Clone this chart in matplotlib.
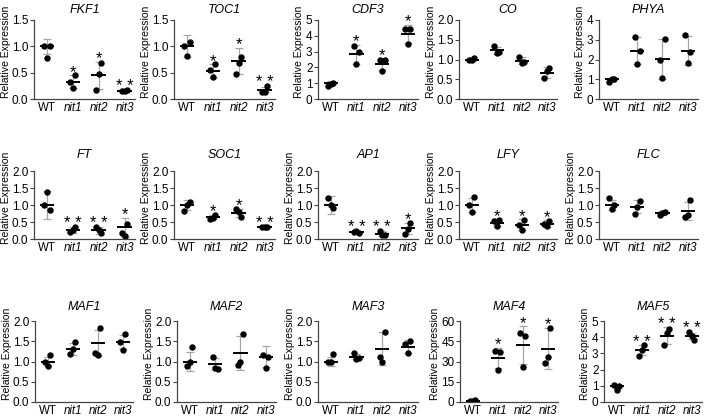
import matplotlib
matplotlib.use("Agg")
import matplotlib.pyplot as plt
import numpy as np

plt.rcParams['font.family'] = ['Liberation Sans', 'DejaVu Sans']

groups = ["WT", "nit1", "nit2", "nit3"]

# dots per genotype (listed left, right, middle), mean line, SD and stars
fkf1_pts = [[1.0, 1.0, 0.77], [0.33, 0.45, 0.2], [0.17, 0.69, 0.47], [0.16, 0.17, 0.15]]
fkf1_mean = [1.0, 0.33, 0.45, 0.15]
fkf1_sd = [0.14, 0.12, 0.26, 0.02]
fkf1_sig = ["", "*", "*", "**"]

toc1_pts = [[1.0, 1.08, 0.82], [0.55, 0.66, 0.41], [0.48, 0.8, 0.69], [0.13, 0.25, 0.14]]
toc1_mean = [1.0, 0.53, 0.72, 0.18]
toc1_sd = [0.21, 0.13, 0.25, 0.05]
toc1_sig = ["", "*", "*", "**"]

cdf3_pts = [[0.82, 1.03, 0.95], [3.35, 2.95, 2.2], [2.45, 2.45, 1.8], [4.45, 4.45, 3.5]]
cdf3_mean = [1.0, 2.82, 2.2, 4.12]
cdf3_sd = [0.13, 0.6, 0.35, 0.58]
cdf3_sig = ["", "*", "*", "*"]

co_pts = [[0.98, 1.05, 1.0], [1.33, 1.2, 1.17], [1.07, 0.93, 0.9], [0.52, 0.78, 0.72]]
co_mean = [1.0, 1.23, 0.97, 0.67]
co_sd = [0.04, 0.08, 0.09, 0.13]
co_sig = ["", "", "", ""]

phya_pts = [[0.87, 1.02, 1.0], [3.15, 2.42, 1.77], [1.97, 3.05, 1.07], [3.25, 2.4, 1.8]]
phya_mean = [1.0, 2.45, 2.03, 2.45]
phya_sd = [0.08, 0.7, 1.0, 0.75]
phya_sig = ["", "", "", ""]

ft_pts = [[1.0, 0.85, 1.38], [0.2, 0.35, 0.27], [0.36, 0.17, 0.27], [0.17, 0.45, 0.08]]
ft_mean = [1.0, 0.27, 0.26, 0.34]
ft_sd = [0.4, 0.08, 0.1, 0.28]
ft_sig = ["", "**", "**", "*"]

soc1_pts = [[0.82, 1.1, 1.0], [0.6, 0.7, 0.62], [0.88, 0.65, 0.78], [0.34, 0.36, 0.35]]
soc1_mean = [1.0, 0.64, 0.77, 0.35]
soc1_sd = [0.14, 0.06, 0.12, 0.02]
soc1_sig = ["", "*", "*", "**"]

ap1_pts = [[1.22, 0.9, 1.0], [0.2, 0.18, 0.25], [0.25, 0.12, 0.12], [0.15, 0.48, 0.3]]
ap1_mean = [1.0, 0.2, 0.16, 0.31]
ap1_sd = [0.27, 0.04, 0.08, 0.17]
ap1_sig = ["", "**", "**", "*"]

lfy_pts = [[1.0, 1.25, 0.8], [0.52, 0.55, 0.37], [0.4, 0.55, 0.27], [0.45, 0.52, 0.37]]
lfy_mean = [1.0, 0.48, 0.42, 0.45]
lfy_sd = [0.22, 0.1, 0.16, 0.1]
lfy_sig = ["", "*", "*", "*"]

flc_pts = [[1.22, 1.0, 0.88], [0.75, 1.13, 0.95], [0.7, 0.8, 0.77], [0.65, 1.15, 0.7]]
flc_mean = [1.0, 0.95, 0.76, 0.83]
flc_sd = [0.16, 0.19, 0.05, 0.27]
flc_sig = ["", "", "", ""]

maf1_pts = [[0.98, 1.15, 0.9], [1.18, 1.47, 1.3], [1.2, 1.82, 1.15], [1.48, 1.68, 1.28]]
maf1_mean = [1.0, 1.31, 1.45, 1.48]
maf1_sd = [0.1, 0.15, 0.32, 0.18]
maf1_sig = ["", "", "", ""]

maf2_pts = [[0.9, 1.37, 1.0], [1.1, 0.82, 0.85], [0.92, 1.67, 1.0], [1.15, 1.12, 0.85]]
maf2_mean = [1.0, 0.94, 1.2, 1.12]
maf2_sd = [0.24, 0.14, 0.42, 0.26]
maf2_sig = ["", "", "", ""]

maf3_pts = [[0.98, 1.18, 1.0], [1.2, 1.08, 1.07], [1.1, 1.72, 0.98], [1.42, 1.5, 1.2]]
maf3_mean = [1.0, 1.12, 1.32, 1.37]
maf3_sd = [0.12, 0.07, 0.4, 0.15]
maf3_sig = ["", "", "", ""]

maf4_pts = [[1.0, 1.2, 0.8], [38.0, 37.0, 24.0], [51.0, 49.0, 26.0], [29.0, 55.0, 33.0]]
maf4_mean = [1.0, 32.5, 42.0, 39.5]
maf4_sd = [0.3, 7.5, 14.0, 15.0]
maf4_sig = ["", "*", "*", "*"]

maf5_pts = [[1.05, 1.0, 0.75], [2.85, 3.5, 3.2], [3.5, 4.5, 4.25], [4.35, 3.8, 4.05]]
maf5_mean = [1.0, 3.2, 4.1, 4.07]
maf5_sd = [0.12, 0.3, 0.5, 0.2]
maf5_sig = ["", "**", "**", "**"]

# gene, data, y max, y step, tick format
panels = [
    [("FKF1", fkf1_pts, fkf1_mean, fkf1_sd, fkf1_sig, 1.5, 0.5, "%.1f"),
     ("TOC1", toc1_pts, toc1_mean, toc1_sd, toc1_sig, 1.5, 0.5, "%.1f"),
     ("CDF3", cdf3_pts, cdf3_mean, cdf3_sd, cdf3_sig, 5, 1, "%d"),
     ("CO", co_pts, co_mean, co_sd, co_sig, 2.0, 0.5, "%.1f"),
     ("PHYA", phya_pts, phya_mean, phya_sd, phya_sig, 4, 1, "%d")],
    [("FT", ft_pts, ft_mean, ft_sd, ft_sig, 2.0, 0.5, "%.1f"),
     ("SOC1", soc1_pts, soc1_mean, soc1_sd, soc1_sig, 2.0, 0.5, "%.1f"),
     ("AP1", ap1_pts, ap1_mean, ap1_sd, ap1_sig, 2.0, 0.5, "%.1f"),
     ("LFY", lfy_pts, lfy_mean, lfy_sd, lfy_sig, 2.0, 0.5, "%.1f"),
     ("FLC", flc_pts, flc_mean, flc_sd, flc_sig, 2.0, 0.5, "%.1f")],
    [("MAF1", maf1_pts, maf1_mean, maf1_sd, maf1_sig, 2.0, 0.5, "%.1f"),
     ("MAF2", maf2_pts, maf2_mean, maf2_sd, maf2_sig, 2.0, 0.5, "%.1f"),
     ("MAF3", maf3_pts, maf3_mean, maf3_sd, maf3_sig, 2.0, 0.5, "%.1f"),
     ("MAF4", maf4_pts, maf4_mean, maf4_sd, maf4_sig, 60, 15, "%d"),
     ("MAF5", maf5_pts, maf5_mean, maf5_sd, maf5_sig, 5, 1, "%d")],
]

W, H = 708, 418
# pixel layout: (top, bottom, title y) per row; (left, right) per column
rows_px = [(20, 99, 10), (171, 239, 155), (321, 402, 307)]
cols_px = [
    [(34, 135), (174, 275), (318, 418), (459, 557), (599, 698)],
    [(34, 135), (174, 275), (318, 418), (459, 557), (599, 698)],
    [(35, 133), (177, 276), (318, 418), (460, 558), (604, 702)],
]
jitter = [-0.1, 0.1, 0.0]
spine_col = "#444444"
err_col = "#a6a6a6"

fig = plt.figure(figsize=(W / 100, H / 100), dpi=100)

for r, row in enumerate(panels):
    top, bot, ty = rows_px[r]
    for c, (name, pts, mean, sd, sig, ymax, step, fmt) in enumerate(row):
        left, right = cols_px[r][c]
        ax = fig.add_axes([left / W, 1 - bot / H, (right - left) / W, (bot - top) / H])
        for i in range(len(groups)):
            ax.errorbar(i, mean[i], yerr=sd[i], color=err_col, lw=0.9,
                        capsize=2.6, capthick=0.9, zorder=1)
            ax.plot(i + np.array(jitter), pts[i], "o", ms=3.6, color="black", zorder=2)
            ax.hlines(mean[i], i - 0.28, i + 0.28, color="black", lw=1.4, zorder=3)
            if sig[i]:
                topv = max(max(pts[i]), mean[i] + sd[i])
                ax.annotate(sig[i].replace("**", "* *"), (i, topv), xytext=(0, -1),
                            textcoords="offset points", ha="center", va="baseline",
                            fontsize=12)
        ax.set_xlim(-0.5, 3.4)
        ax.set_ylim(0, ymax)
        ax.set_yticks(np.arange(0, ymax + step / 2, step))
        ax.yaxis.set_major_formatter(matplotlib.ticker.FormatStrFormatter(fmt))
        ax.set_xticks(range(len(groups)))
        ax.set_xticklabels(groups)
        for lab in ax.get_xticklabels()[1:]:
            lab.set_style("italic")
        ax.tick_params(axis="x", length=0, pad=2, labelsize=8.3)
        ax.tick_params(axis="y", length=3, width=0.8, color=spine_col, pad=1, labelsize=8.5)
        for s in ["top", "right"]:
            ax.spines[s].set_visible(False)
        for s in ["left", "bottom"]:
            ax.spines[s].set_color(spine_col)
            ax.spines[s].set_linewidth(0.9)
        ax.spines["left"].set_bounds(0, ymax)
        ax.set_ylabel("Relative Expression", fontsize=7.5, labelpad=1)
        ax.yaxis.label.set_y(0.6)
        fig.text((left + right) / 2 / W, 1 - ty / H, name, ha="center", va="center",
                 fontsize=9, style="italic")

fig.savefig("out.png", dpi=100)
